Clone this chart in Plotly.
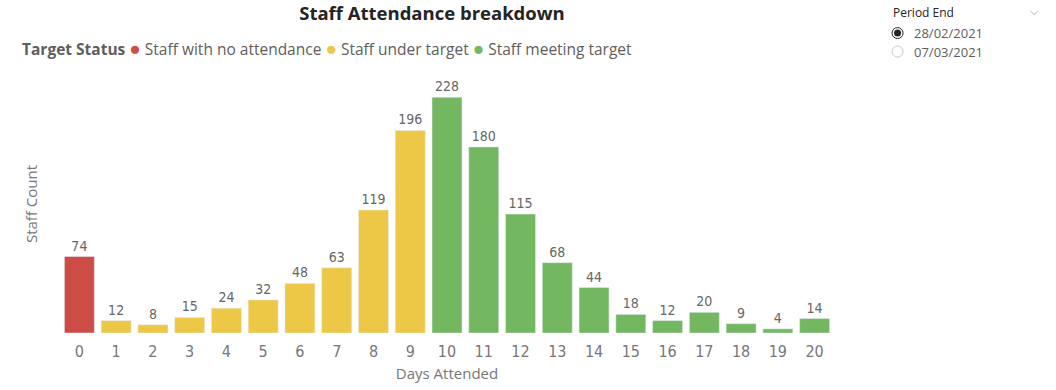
import plotly.graph_objects as go

days = list(range(21))
staff_count = [74, 12, 8, 15, 24, 32, 48, 63, 119, 196, 228, 180, 115, 68, 44, 18, 12, 20, 9, 4, 14]
status_names = ["Staff with no attendance", "Staff under target", "Staff meeting target"]
status_colors = ["#CD4C46", "#ECC846", "#73B761"]
status_of_day = [0] + [1] * 9 + [2] * 11
period_options = ["28/02/2021", "07/03/2021"]

W, H = 1056, 390
L, R, T, B = 60.6, 833.4, 75, 333.3


def px(x):
    return (x - L) / (R - L)


def py(y):
    return (B - y) / (B - T)


fig = go.Figure()
for s, (name, col) in enumerate(zip(status_names, status_colors)):
    xs = [d for d, st in zip(days, status_of_day) if st == s]
    ys = [v for v, st in zip(staff_count, status_of_day) if st == s]
    fig.add_trace(go.Bar(
        x=xs, y=ys, name=name, marker_color=col, showlegend=False,
        text=[str(v) for v in ys], textposition="outside", cliponaxis=False,
        textfont=dict(family="DejaVu Sans Condensed", size=14, color="#666666"),
        hoverinfo="x+y",
    ))

fig.update_layout(
    width=W, height=H,
    margin=dict(l=L, r=W - R, t=T, b=H - B, pad=0, autoexpand=False),
    plot_bgcolor="white", paper_bgcolor="white",
    bargap=0.185, barmode="overlay", showlegend=False,
    title=dict(text="<b>Staff Attendance breakdown</b>", xref="container", yref="container",
               x=432 / W, y=1 - 14 / H, xanchor="center", yanchor="middle",
               font=dict(family="Open Sans", size=18.5, color="#252423")),
    xaxis=dict(tickmode="array", tickvals=days, ticktext=[str(d) for d in days],
               range=[-0.5, 20.5], showgrid=False, zeroline=False, showline=False,
               automargin=False,
               ticks="outside", ticklen=4, tickcolor="rgba(0,0,0,0)",
               tickfont=dict(family="DejaVu Sans Condensed", size=16, color="#777777"),
               title=dict(text="Days Attended", standoff=8,
                          font=dict(family="Open Sans", size=15, color="#777777"))),
    yaxis=dict(range=[0, (B - T) / 1.035], showgrid=False, zeroline=False, showline=False,
               automargin=False, showticklabels=False, ticks="",
               title=dict(text="Staff Count", standoff=18,
                          font=dict(family="Open Sans", size=15, color="#777777"))),
)

# Legend row
legend_html = "<b>Target Status</b> " + " ".join(
    f"<span style='color:{c};font-size:19px'>●</span> {n}" for n, c in zip(status_names, status_colors)
)
fig.add_annotation(text=legend_html, xref="paper", yref="paper",
                   x=px(20), y=py(48), xanchor="left", yanchor="middle",
                   showarrow=False, font=dict(family="Open Sans", size=15.5, color="#605E5C"))

# Slicer panel on the right
fig.add_annotation(text="Period End", xref="paper", yref="paper",
                   x=px(891), y=py(12), xanchor="left", yanchor="middle",
                   showarrow=False, font=dict(family="Open Sans", size=12, color="#252423"))
fig.add_annotation(text="⌵", xref="paper", yref="paper",
                   x=px(1035), y=py(11), xanchor="center", yanchor="middle",
                   showarrow=False, font=dict(family="DejaVu Sans", size=11, color="#999999"))
for i, opt in enumerate(period_options):
    cy = 33 + i * 18.5
    yp = py(cy)
    xp = px(898)
    fig.add_shape(type="circle", xref="paper", yref="paper", xsizemode="pixel", ysizemode="pixel",
                  xanchor=xp, yanchor=yp, x0=-5.5, x1=5.5, y0=-5.5, y1=5.5,
                  line=dict(color="#252423" if i == 0 else "#C8C6C4", width=1), fillcolor="white")
    if i == 0:
        fig.add_shape(type="circle", xref="paper", yref="paper", xsizemode="pixel", ysizemode="pixel",
                      xanchor=xp, yanchor=yp, x0=-3.5, x1=3.5, y0=-3.5, y1=3.5,
                      line=dict(width=0), fillcolor="#252423")
    fig.add_annotation(text=opt, xref="paper", yref="paper",
                       x=px(912), y=yp, xanchor="left", yanchor="middle",
                       showarrow=False, font=dict(family="Open Sans", size=13, color="#605E5C"))

fig.write_html("out.html", config={"displayModeBar": False},
               post_script="document.body.style.margin='0';")
